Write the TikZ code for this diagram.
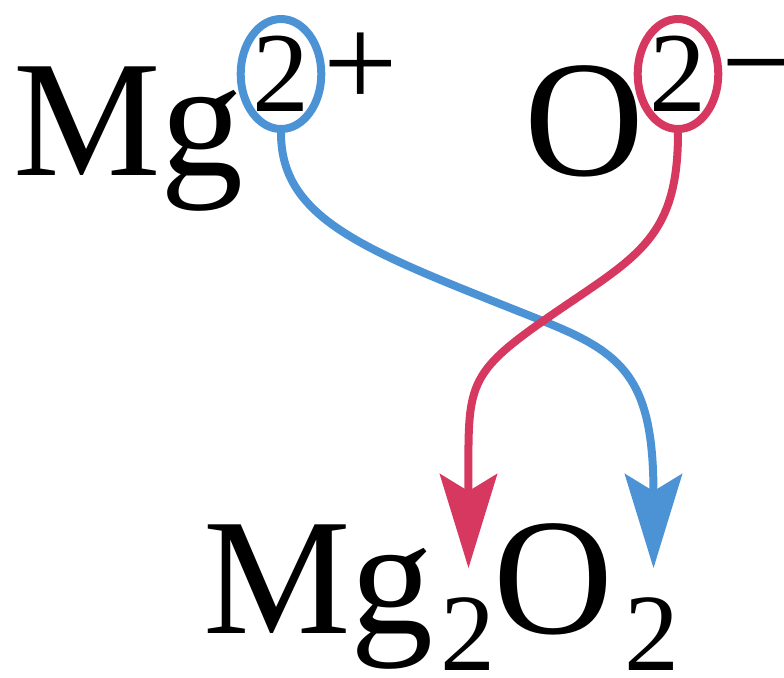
\documentclass[tikz,border=0pt]{standalone}
\usepackage{fontspec}
\setmainfont{Liberation Serif}
\usetikzlibrary{arrows.meta, shapes.geometric, calc}

\definecolor{mgblue}{RGB}{76,147,214}
\definecolor{oxred}{RGB}{214,56,96}

\begin{document}
\begin{tikzpicture}[
    x=0.5pt, y=-0.5pt,
    ion/.style={
        font=\fontsize{83}{83}\selectfont,
        inner sep=0pt, outer sep=0pt, anchor=base west,
    },
    digit/.style={ion, font=\fontsize{55}{55}\selectfont},
    sign/.style={ion, font=\fontsize{66}{66}\selectfont},
    charge/.style={
        ellipse, inner sep=0pt,
        minimum width=40pt, minimum height=55pt,
        line width=4pt, font=\fontsize{57}{57}\selectfont,
    },
    elec/.style={
        line width=4pt,
        -{Stealth[length=47pt, width=28.5pt, inset=8.5pt]},
    },
]
\useasboundingbox (0,0) rectangle (784,677);

% --- Ions ---
\node[ion] (mg) at (13,175) {Mg};
\node[charge, draw=mgblue] (mgch) at (281,74) {2};
\node[sign] (mgsign) at (323,107) {+};

\node[ion] (ox) at (524,175) {O};
\node[charge, draw=oxred] (oxch) at (678,74) {2};
\node[sign] (oxsign) at (721,106) {\char"2212};

% --- Product ---
\node[ion] (mgb) at (203,633) {Mg};
\node[digit] (mgn) at (440,670) {2};
\node[ion] (oxb) at (494,633) {O};
\node[digit] (oxn) at (624,670) {2};

% --- Crossing arrows ---
\coordinate (cross) at (543,321);
\draw[elec, mgblue] (mgch.south)
    .. controls +(0,90) and +(-170,-68) .. (cross)
    .. controls +(80,32) and +(0,-190) .. ($(oxn.north)+(2,-29)$);
\draw[elec, oxred] (oxch.south)
    .. controls +(0,110) and +(90,-63) .. (cross)
    .. controls +(-80,56) and +(0,-180) .. ($(mgn.north)+(1,-29)$);

\end{tikzpicture}
\end{document}
